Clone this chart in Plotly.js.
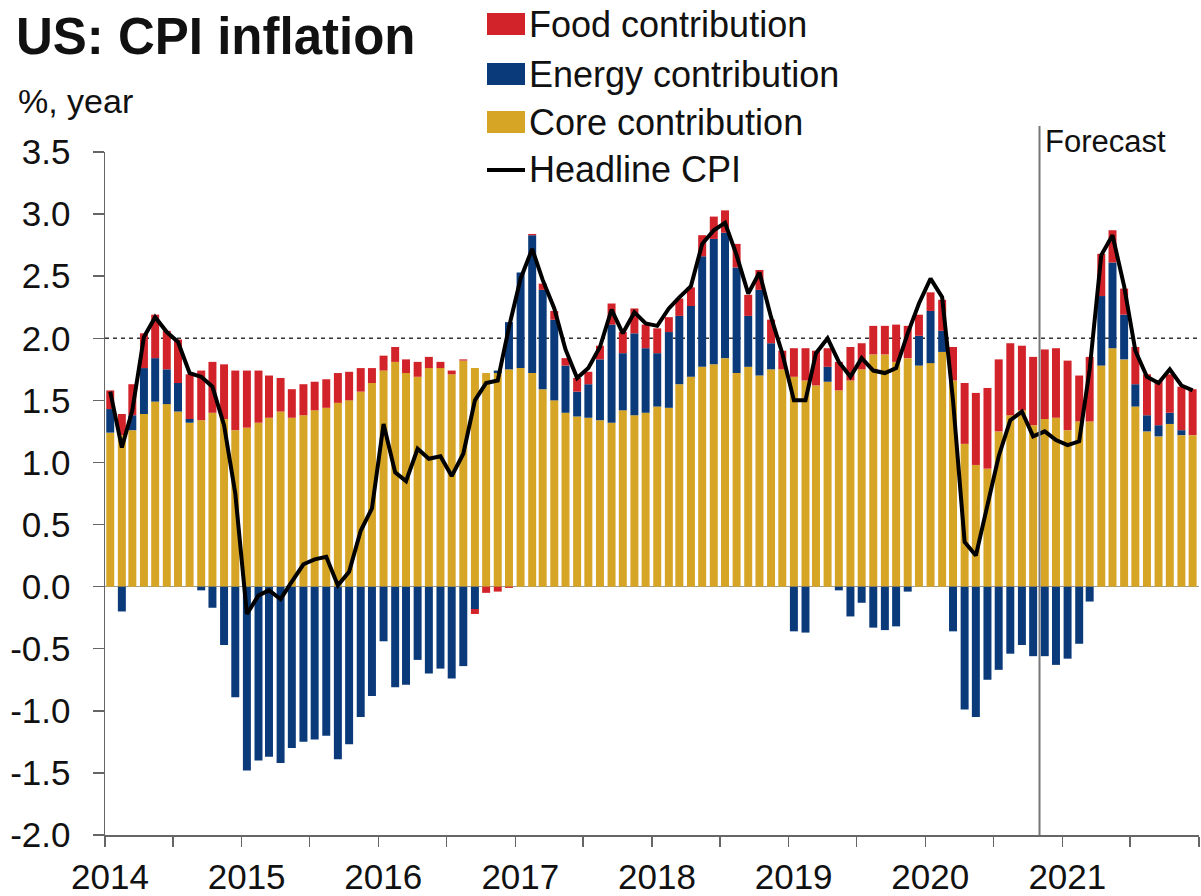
<!DOCTYPE html>
<html>
<head>
<meta charset="utf-8">
<script src="https://cdn.plot.ly/plotly-3.0.1.min.js"></script>
<style>
  html, body { margin: 0; padding: 0; background: #fff; }
  #chart { width: 1201px; height: 896px; }
</style>
</head>
<body>
<div id="chart"></div>
<script>
'use strict'

// contributions to US CPI inflation, % y/y, monthly Jan 2014 - Dec 2021
var core = [
  1.24, 1.22, 1.26, 1.39, 1.49, 1.47, 1.41, 1.32, 1.34, 1.40, 1.35, 1.26,
  1.28, 1.32, 1.36, 1.41, 1.36, 1.38, 1.42, 1.44, 1.48, 1.50, 1.57, 1.64,
  1.74, 1.81, 1.72, 1.69, 1.76, 1.76, 1.71, 1.82, 1.76, 1.72, 1.72, 1.75,
  1.76, 1.72, 1.59, 1.50, 1.40, 1.37, 1.36, 1.34, 1.32, 1.42, 1.38, 1.40,
  1.45, 1.44, 1.63, 1.69, 1.77, 1.79, 1.84, 1.72, 1.77, 1.70, 1.75, 1.75,
  1.69, 1.66, 1.62, 1.65, 1.58, 1.66, 1.75, 1.87, 1.87, 1.81, 1.84, 1.78,
  1.80, 1.89, 1.66, 1.15, 0.98, 0.95, 1.25, 1.38, 1.42, 1.30, 1.35, 1.36,
  1.26, 1.33, 1.33, 1.78, 1.92, 1.83, 1.45, 1.25, 1.21, 1.31, 1.22, 1.22
];
var energy = [
  0.19, -0.20, 0.12, 0.37, 0.35, 0.28, 0.23, 0.03, -0.03, -0.17, -0.47, -0.89,
  -1.48, -1.40, -1.37, -1.42, -1.30, -1.25, -1.23, -1.20, -1.39, -1.27, -1.05, -0.88,
  -0.44, -0.81, -0.79, -0.59, -0.70, -0.66, -0.74, -0.64, -0.18, 0.00, 0.02, 0.38,
  0.77, 1.11, 0.80, 0.65, 0.38, 0.20, 0.27, 0.49, 0.79, 0.46, 0.66, 0.52,
  0.43, 0.61, 0.55, 0.57, 0.89, 1.01, 1.01, 0.85, 0.41, 0.69, 0.21, 0.00,
  -0.36, -0.37, 0.00, 0.12, -0.03, -0.24, -0.13, -0.33, -0.35, -0.32, -0.04, 0.24,
  0.42, 0.17, -0.36, -0.99, -1.05, -0.75, -0.67, -0.54, -0.47, -0.56, -0.56, -0.63,
  -0.58, -0.46, -0.12, 0.56, 0.69, 0.36, 0.18, 0.13, 0.09, 0.09, 0.04, 0.00
];
var food = [
  0.15, 0.17, 0.25, 0.28, 0.35, 0.31, 0.35, 0.36, 0.40, 0.41, 0.44, 0.48,
  0.46, 0.42, 0.34, 0.27, 0.23, 0.25, 0.23, 0.23, 0.24, 0.23, 0.19, 0.12,
  0.12, 0.12, 0.11, 0.12, 0.09, 0.05, 0.03, 0.01, -0.04, -0.05, -0.04, -0.01,
  0.00, 0.01, 0.05, 0.07, 0.06, 0.11, 0.10, 0.11, 0.17, 0.17, 0.20, 0.19,
  0.20, 0.12, 0.14, 0.15, 0.17, 0.18, 0.18, 0.19, 0.17, 0.16, 0.19, 0.15,
  0.23, 0.26, 0.28, 0.15, 0.23, 0.27, 0.21, 0.23, 0.23, 0.30, 0.26, 0.17,
  0.15, 0.25, 0.27, 0.49, 0.58, 0.65, 0.58, 0.58, 0.52, 0.55, 0.56, 0.56,
  0.56, 0.37, 0.52, 0.34, 0.26, 0.21, 0.30, 0.33, 0.36, 0.31, 0.35, 0.37
];
var headline = [
  1.57, 1.12, 1.42, 2.01, 2.17, 2.05, 1.97, 1.72, 1.69, 1.61, 1.30, 0.75,
  -0.22, -0.07, -0.03, -0.10, 0.04, 0.18, 0.22, 0.24, 0.01, 0.12, 0.45, 0.63,
  1.31, 0.92, 0.85, 1.11, 1.03, 1.05, 0.89, 1.07, 1.50, 1.64, 1.66, 2.09,
  2.48, 2.72, 2.47, 2.24, 1.91, 1.68, 1.76, 1.93, 2.23, 2.04, 2.21, 2.12,
  2.10, 2.24, 2.33, 2.42, 2.76, 2.87, 2.93, 2.67, 2.36, 2.53, 2.17, 1.88,
  1.50, 1.50, 1.88, 2.00, 1.81, 1.69, 1.84, 1.74, 1.72, 1.76, 2.04, 2.28,
  2.48, 2.33, 1.50, 0.36, 0.25, 0.67, 1.05, 1.34, 1.41, 1.21, 1.25, 1.18,
  1.14, 1.17, 1.75, 2.67, 2.83, 2.42, 1.90, 1.69, 1.64, 1.75, 1.62, 1.58
];

var firstYear = 2014, lastYear = 2021;
var forecastStart = '2020-11-01';
var target = 2.0;

var yTickVals = [-2.0, -1.5, -1.0, -0.5, 0.0, 0.5, 1.0, 1.5, 2.0, 2.5, 3.0, 3.5];
var yTickText = ['-2.0', '-1.5', '-1.0', '-0.5', '0.0', '0.5', '1.0', '1.5', '2.0', '2.5', '3.0', '3.5'];

var seriesNames = ['Food contribution', 'Energy contribution', 'Core contribution', 'Headline CPI'];

var RED = '#d2232a', BLUE = '#0a3a7a', GOLD = '#d6a526', FONT = 'Liberation Sans, Arial, sans-serif';

function pad(n) { return n < 10 ? '0' + n : '' + n; }

// mid-month dates for bars / line
var months = [];
for (var y = firstYear; y <= lastYear; y++) {
  for (var m = 1; m <= 12; m++) months.push(y + '-' + pad(m) + '-15');
}

// half-year ticks, labels only on January
var xTickVals = [], xTickText = [];
for (var y = firstYear; y <= lastYear + 1; y++) {
  xTickVals.push(y + '-01-01');
  xTickText.push(y <= lastYear ? '' + y : '');
  if (y <= lastYear) { xTickVals.push(y + '-07-01'); xTickText.push(''); }
}

var barWidth = 0.7 * 30.44 * 24 * 3600 * 1000;

function bars(name, vals, color) {
  return {
    type: 'bar', name: name, x: months, y: vals,
    width: barWidth,
    marker: { color: color, line: { width: 0 } },
    hoverinfo: 'skip'
  };
}

var data = [
  bars(seriesNames[2], core, GOLD),
  bars(seriesNames[1], energy, BLUE),
  bars(seriesNames[0], food, RED),
  {
    type: 'scatter', mode: 'lines', name: seriesNames[3],
    x: months, y: headline,
    line: { color: '#000', width: 4 },
    hoverinfo: 'skip'
  }
];

// plot area in pixels: left 105, right 1199, top 152, bottom 835
function px(x) { return (x - 105) / 1094; }
function py(y) { return (835 - y) / 683; }

var shapes = [
  { type: 'line', layer: 'below', xref: 'paper', yref: 'y', x0: 0, x1: 1, y0: target, y1: target,
    line: { color: '#333', width: 1.5, dash: '4px,4px' } },
  { type: 'line', xref: 'x', yref: 'paper', x0: forecastStart, x1: forecastStart, y0: 0, y1: py(126),
    line: { color: '#777', width: 2 } }
];
var annotations = [
  { text: '%, year', xref: 'paper', yref: 'paper', x: px(16), y: py(101), xanchor: 'left', yanchor: 'middle',
    showarrow: false, font: { family: FONT, size: 34, color: '#111' } },
  { text: 'Forecast', xref: 'x', yref: 'paper', x: forecastStart, xshift: 3, y: py(141), xanchor: 'left', yanchor: 'middle',
    showarrow: false, font: { family: FONT, size: 31, color: '#111' } }
];

// hand-drawn legend to get the wide colour swatches
var legendColors = [RED, BLUE, GOLD, '#000'];
var legendRows = [24, 74, 122, 170];
for (var i = 0; i < seriesNames.length; i++) {
  var cy = legendRows[i];
  if (i < 3) {
    shapes.push({ type: 'rect', xref: 'paper', yref: 'paper', x0: px(487), x1: px(525), y0: py(cy + 11), y1: py(cy - 11),
      fillcolor: legendColors[i], line: { width: 0 } });
  } else {
    shapes.push({ type: 'line', xref: 'paper', yref: 'paper', x0: px(487), x1: px(525), y0: py(cy), y1: py(cy),
      line: { color: legendColors[i], width: 4 } });
  }
  annotations.push({ text: seriesNames[i], xref: 'paper', yref: 'paper', x: px(527), y: py(cy), xanchor: 'left', yanchor: 'middle',
    showarrow: false, font: { family: FONT, size: 36, color: '#111' } });
}

var layout = {
  width: 1201, height: 896,
  margin: { l: 105, r: 2, t: 152, b: 61 },
  paper_bgcolor: '#fff', plot_bgcolor: '#fff',
  showlegend: false,
  barmode: 'relative',
  font: { family: FONT, size: 34, color: '#111' },
  title: {
    text: 'US: CPI inflation',
    font: { family: FONT, size: 51, weight: 'bold', color: '#111' },
    xref: 'container', yref: 'container', x: 16 / 1201, xanchor: 'left', y: 1 - 18 / 896, yanchor: 'top'
  },
  xaxis: {
    type: 'date',
    range: [firstYear + '-01-01', (lastYear + 1) + '-01-01'],
    tickmode: 'array', tickvals: xTickVals, ticktext: xTickText,
    ticks: 'outside', ticklen: 10, tickwidth: 1.5, tickcolor: '#666',
    ticklabelshift: 5,
    showline: true, linecolor: '#666', linewidth: 1.5,
    showgrid: false, zeroline: false,
    tickfont: { family: FONT, size: 35, color: '#111' }
  },
  yaxis: {
    range: [-2, 3.5],
    tickmode: 'array', tickvals: yTickVals, ticktext: yTickText,
    ticks: 'outside', ticklen: 11, tickwidth: 1.5, tickcolor: '#666',
    ticklabelstandoff: 15,
    showline: true, linecolor: '#666', linewidth: 1.5,
    showgrid: false,
    zeroline: true, zerolinecolor: '#999', zerolinewidth: 1,
    tickfont: { family: FONT, size: 35, color: '#111' }
  },
  shapes: shapes,
  annotations: annotations
};

Plotly.newPlot('chart', data, layout, { displayModeBar: false, staticPlot: true });
</script>
</body>
</html>
